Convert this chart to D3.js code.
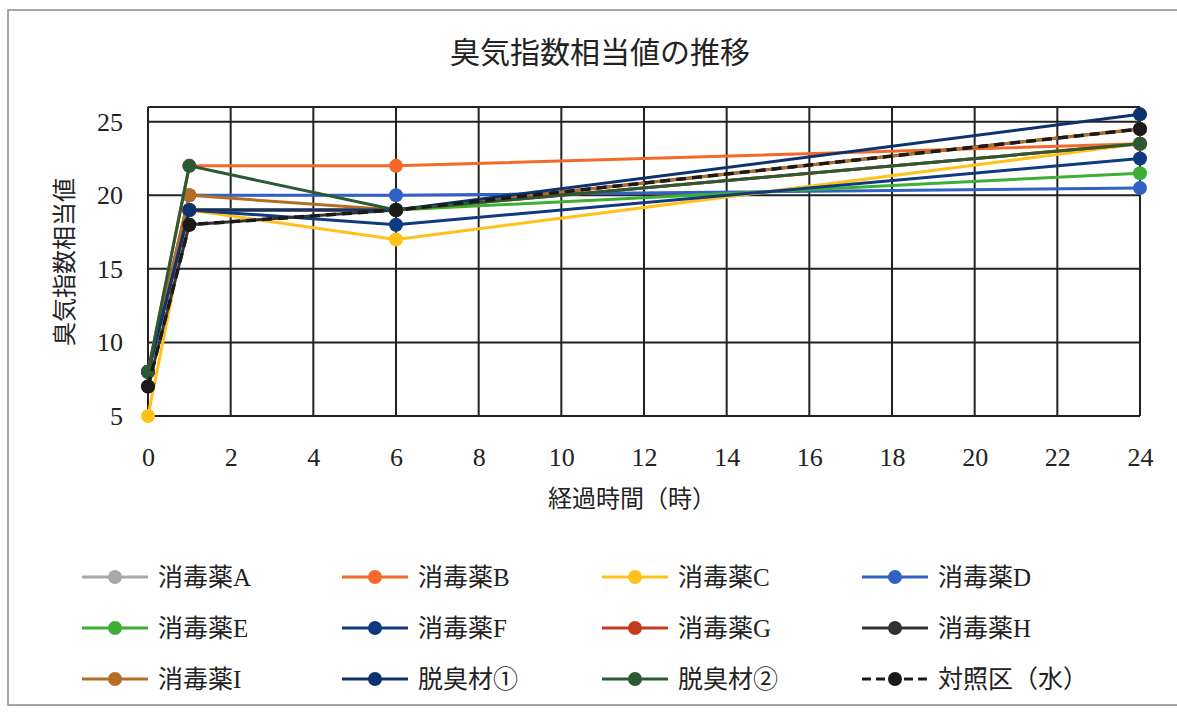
<!DOCTYPE html>
<html>
<head>
<meta charset="utf-8">
<script src="https://cdn.jsdelivr.net/npm/d3@7"></script>
<style>
  body { margin: 0; background: #fff; }
  text { fill: #222; }
  .num { font-family: "Liberation Serif", "DejaVu Serif", serif; }
  .jp { font-family: "Noto Sans CJK JP", sans-serif; }
  .lg { font-family: "Liberation Serif", "Noto Sans CJK JP", serif; }
</style>
</head>
<body>
<div id="chart"></div>
<script>
// hours elapsed
const hours = [0, 1, 6, 24];

// series names, in legend order
const seriesNames = ["消毒薬A", "消毒薬B", "消毒薬C", "消毒薬D", "消毒薬E", "消毒薬F",
  "消毒薬G", "消毒薬H", "消毒薬I", "脱臭材①", "脱臭材②", "対照区（水）"];

// values (odor index equivalent)
const valA = [8, 19, 19, 23.5];
const valB = [8, 22, 22, 23.5];
const valC = [5, 19, 17, 23.5];
const valD = [8, 20, 20, 20.5];
const valE = [8, 19, 19, 21.5];
const valF = [8, 19, 18, 22.5];
const valG = [8, 19, 19, 23.5];
const valH = [7, 18, 19, 24.5];
const valI = [8, 20, 19, 24.5];
const valDeo1 = [8, 19, 19, 25.5];
const valDeo2 = [8, 22, 19, 23.5];
const valCtrl = [7, 18, 19, 24.5];

const xTicks = [0, 2, 4, 6, 8, 10, 12, 14, 16, 18, 20, 22, 24];
const yTicks = [5, 10, 15, 20, 25];

const colors = ["#a8a8a8", "#f4692a", "#ffc11a", "#2f62c4", "#3fae34", "#0f3a80",
  "#c63c1e", "#333333", "#b56d25", "#0d336f", "#2b5a32", "#1a1a1a"];

const allValues = [valA, valB, valC, valD, valE, valF, valG, valH, valI, valDeo1, valDeo2, valCtrl];
const series = seriesNames.map((name, i) => ({
  name,
  color: colors[i],
  dashed: i === 11,
  points: hours.map((h, j) => ({ x: h, y: allValues[i][j] }))
}));

const width = 1177, height = 714;
const svg = d3.select("#chart").append("svg")
  .attr("width", width).attr("height", height);

// outer frame
svg.append("rect")
  .attr("x", 8).attr("y", 10).attr("width", 1180).attr("height", 695)
  .attr("fill", "none").attr("stroke", "#888").attr("stroke-width", 1.5);

const x = d3.scaleLinear().domain([0, 24]).range([148, 1140]);
const y = d3.scaleLinear().domain([5, 26]).range([416, 107]);

// title
svg.append("text").attr("class", "jp")
  .attr("x", 600).attr("y", 63).attr("text-anchor", "middle")
  .attr("font-size", 30).text("臭気指数相当値の推移");

// grid
const grid = svg.append("g").attr("stroke", "#222").attr("stroke-width", 2);
grid.selectAll(".vg").data(xTicks).join("line")
  .attr("x1", d => x(d)).attr("x2", d => x(d))
  .attr("y1", y(26)).attr("y2", y(5));
grid.selectAll(".hg").data(yTicks.concat([26])).join("line")
  .attr("x1", x(0)).attr("x2", x(24))
  .attr("y1", d => y(d)).attr("y2", d => y(d));

// axes (labels only, lines come from grid)
const xAxis = svg.append("g").attr("transform", `translate(0,${y(5) + 32})`)
  .call(d3.axisBottom(x).tickValues(xTicks).tickSize(0).tickPadding(0));
xAxis.select(".domain").remove();
xAxis.selectAll("text").attr("class", "num").attr("font-size", 26).attr("fill", "#222");

const yAxis = svg.append("g").attr("transform", `translate(${x(0) - 25},0)`)
  .call(d3.axisLeft(y).tickValues(yTicks).tickSize(0).tickPadding(0));
yAxis.select(".domain").remove();
yAxis.selectAll("text").attr("class", "num").attr("font-size", 26).attr("fill", "#222");

// axis titles
svg.append("text").attr("class", "jp")
  .attr("x", 632).attr("y", 507).attr("text-anchor", "middle")
  .attr("font-size", 24).text("経過時間（時）");
svg.append("text").attr("class", "jp")
  .attr("transform", `translate(73,262) rotate(-90)`)
  .attr("text-anchor", "middle").attr("font-size", 24).text("臭気指数相当値");

// lines
const line = d3.line().x(d => x(d.x)).y(d => y(d.y));
const sg = svg.append("g");
series.forEach(s => {
  sg.append("path").datum(s.points)
    .attr("d", line).attr("fill", "none")
    .attr("stroke", s.color).attr("stroke-width", s.dashed ? 3.5 : 3)
    .attr("stroke-dasharray", s.dashed ? "10,6" : null);
  sg.selectAll(null).data(s.points).join("circle")
    .attr("cx", d => x(d.x)).attr("cy", d => y(d.y)).attr("r", 7)
    .attr("fill", s.color);
});

// legend
const legend = svg.append("g");
series.forEach((s, i) => {
  const col = i % 4, row = Math.floor(i / 4);
  const g = legend.append("g")
    .attr("transform", `translate(${82 + col * 260},${577 + row * 51})`);
  g.append("line").attr("x1", 0).attr("x2", 66).attr("y1", 0).attr("y2", 0)
    .attr("stroke", s.color).attr("stroke-width", 3)
    .attr("stroke-dasharray", s.dashed ? "9,5" : null);
  g.append("circle").attr("cx", 33).attr("cy", 0).attr("r", 7).attr("fill", s.color);
  g.append("text").attr("class", "lg").attr("x", 76).attr("y", 9)
    .attr("font-size", 25).text(s.name);
});
</script>
</body>
</html>
